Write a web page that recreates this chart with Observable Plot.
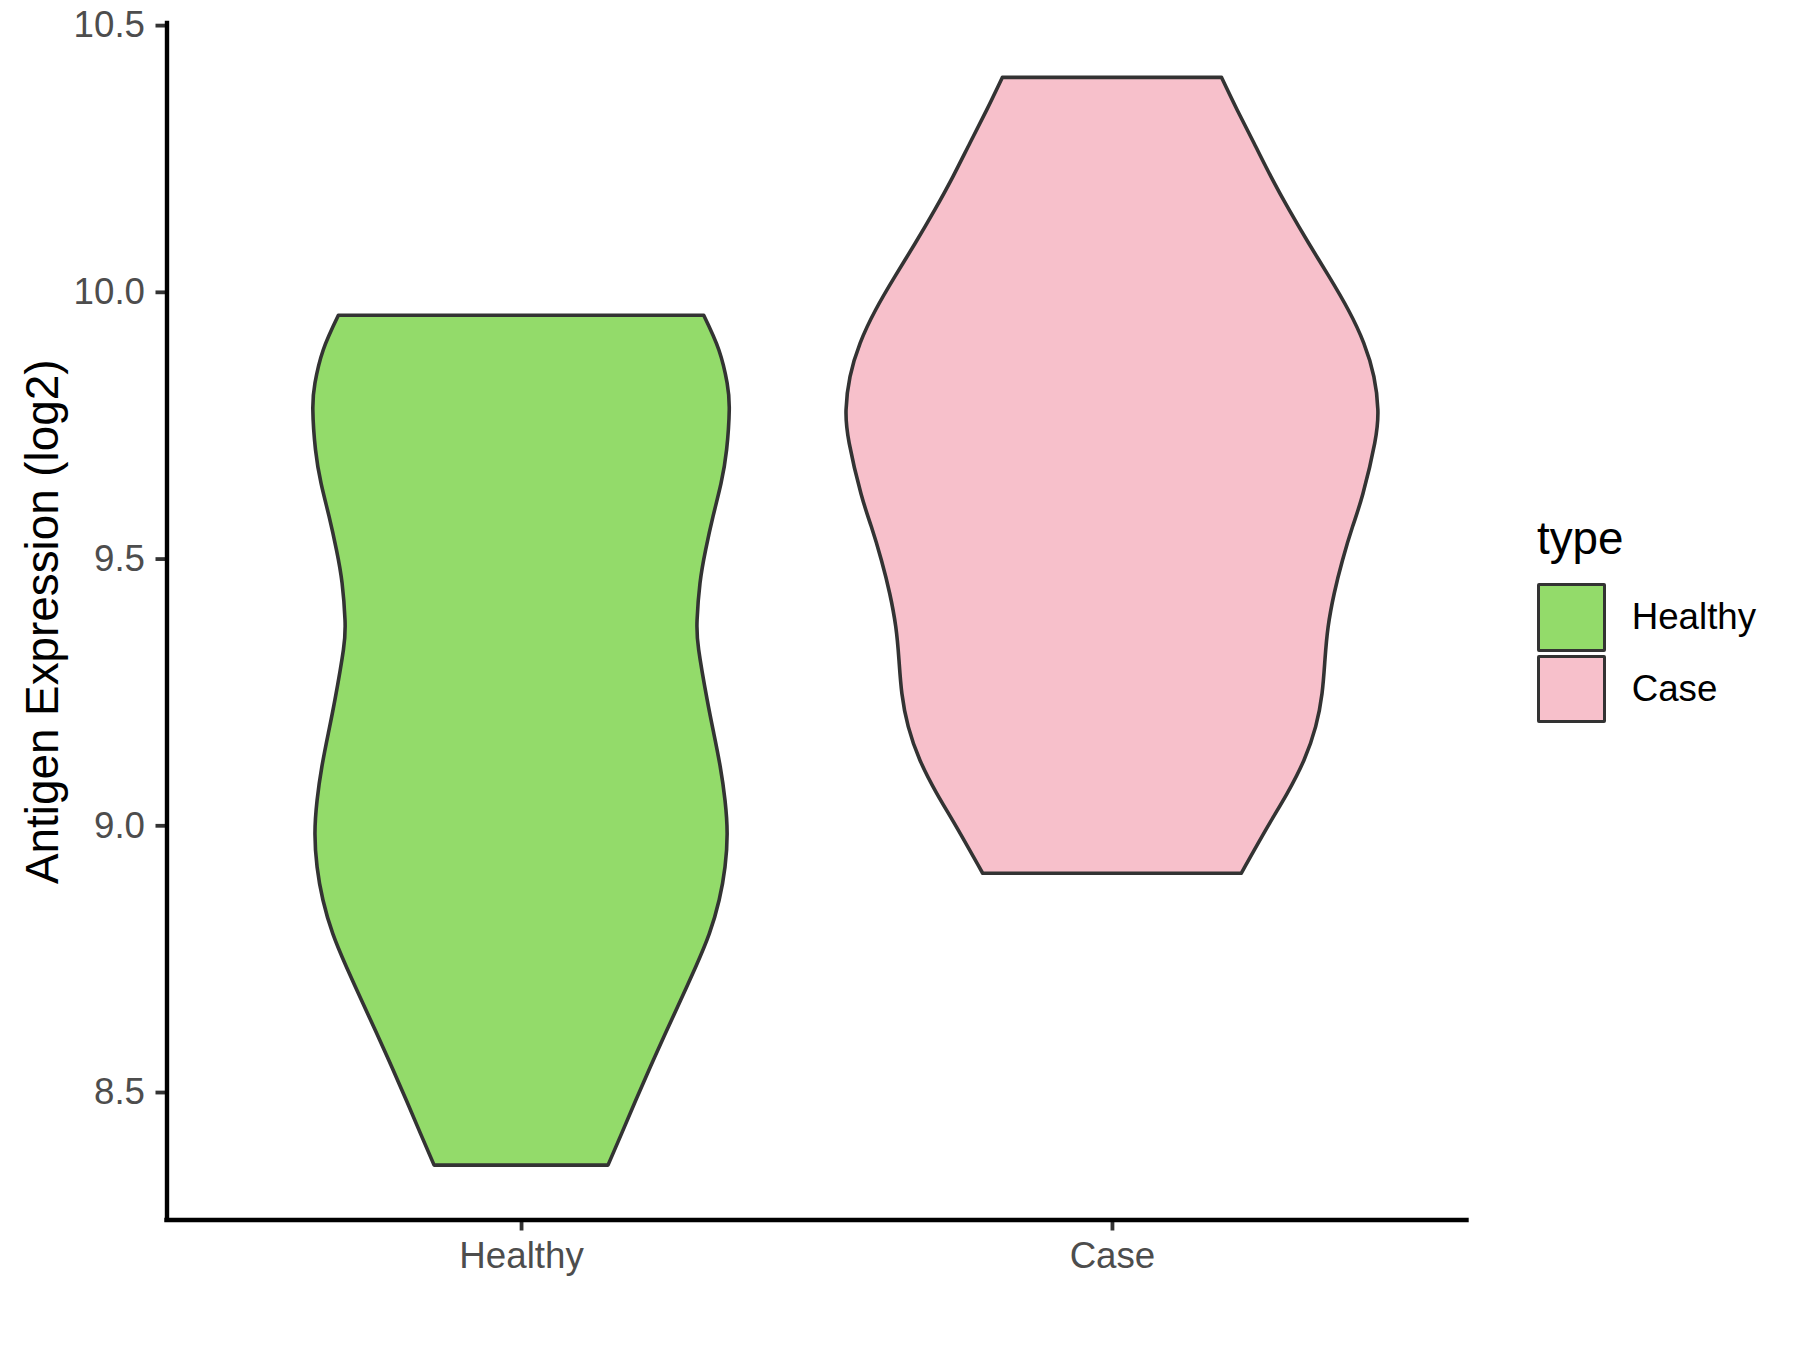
<!DOCTYPE html>
<html>
<head>
<meta charset="utf-8">
<script src="https://cdn.jsdelivr.net/npm/d3@7"></script>
<script src="https://cdn.jsdelivr.net/npm/@observablehq/plot@0.6"></script>
<style>
  html, body { margin: 0; padding: 0; background: #fff; }
  #wrap { position: relative; width: 1800px; height: 1350px; font-family: "Liberation Sans", Arial, sans-serif; }
  #wrap svg { display: block; }
  .leg { position: absolute; font-family: "Liberation Sans", Arial, sans-serif; line-height: 1; white-space: nowrap; color: #000; }
  .key { position: absolute; box-sizing: border-box; border: 3.5px solid #333333; border-radius: 2px; }
</style>
</head>
<body>
<div id="wrap"></div>
<script>
// ---- data ----
const categories = ["Healthy", "Case"];
const colors = ["#93DB6A", "#F7C0CB"];
const yTicks = [8.5, 9.0, 9.5, 10.0, 10.5];
const yTitle = "Antigen Expression (log2)";
const legendTitle = "type";

// Healthy violin: expression values and scaled density (max of all violins = 1)
const healthyY = [9.956, 9.891, 9.829, 9.779, 9.704, 9.641, 9.579, 9.516, 9.454, 9.385, 9.329, 9.235,
  9.172, 9.110, 9.047, 8.985, 8.922, 8.860, 8.797, 8.735, 8.672, 8.610, 8.547, 8.484, 8.422, 8.363];
const healthyDensity = [0.687, 0.744, 0.775, 0.783, 0.773, 0.752, 0.722, 0.694, 0.673, 0.662, 0.668, 0.700,
  0.725, 0.749, 0.767, 0.775, 0.767, 0.745, 0.708, 0.657, 0.600, 0.543, 0.486, 0.431, 0.378, 0.327];

// Case violin
const caseY = [10.402, 10.341, 10.279, 10.216, 10.154, 10.091, 10.029, 9.966, 9.904, 9.841, 9.779, 9.716,
  9.622, 9.560, 9.497, 9.435, 9.372, 9.310, 9.247, 9.185, 9.122, 9.060, 8.997, 8.910];
const caseDensity = [0.412, 0.471, 0.534, 0.598, 0.666, 0.740, 0.816, 0.889, 0.947, 0.985, 1.000, 0.988,
  0.944, 0.905, 0.867, 0.836, 0.813, 0.801, 0.790, 0.766, 0.722, 0.659, 0.585, 0.486];

// ---- build rows ----
const halfWidth = 0.45; // ggplot violin width 0.9
function rows(ys, ds, idx, type) {
  return ys.map((y, i) => ({type, pos: idx + 1, y, d: ds[i]}));
}
const healthyRows = rows(healthyY, healthyDensity, 0, categories[0]);
const caseRows = rows(caseY, caseDensity, 1, categories[1]);

const allY = healthyY.concat(caseY);
const yMin = d3.min(allY), yMax = d3.max(allY);
const yPad = (yMax - yMin) * 0.05;

const violin = (data, fill) => Plot.areaX(data, {
  y: "y",
  x1: d => d.pos - halfWidth * d.d,
  x2: d => d.pos + halfWidth * d.d,
  fill,
  stroke: "#333333",
  strokeWidth: 3.6,
  strokeLinejoin: "round",
  curve: "natural"
});

const chart = Plot.plot({
  width: 1800,
  height: 1350,
  marginLeft: 166.5,
  marginRight: 333.5,
  marginTop: 23,
  marginBottom: 130.5,
  style: {fontFamily: "'Liberation Sans', Arial, sans-serif", fontSize: "36.7px", background: "#fff"},
  x: {domain: [0.4, 2.6], label: null},
  y: {domain: [yMin - yPad, yMax + yPad], label: null},
  marks: [
    violin(healthyRows, colors[0]),
    violin(caseRows, colors[1]),
    Plot.axisY({ticks: yTicks, tickFormat: d3.format(".1f"), tickSize: 11, tickPadding: 11,
      stroke: "#333333", strokeWidth: 3.8, fill: "#4D4D4D", fontSize: 36.7, label: null}),
    Plot.axisX({ticks: [1, 2], tickFormat: d => categories[d - 1], tickSize: 11, tickPadding: 11,
      stroke: "#333333", strokeWidth: 3.8, fill: "#4D4D4D", fontSize: 36.7, label: null}),
    Plot.ruleX([0.4], {stroke: "#000", strokeWidth: 4.4, strokeLinecap: "square"}),
    Plot.ruleY([yMin - yPad], {stroke: "#000", strokeWidth: 4.4, strokeLinecap: "square"}),
    Plot.text([yTitle], {frameAnchor: "left", rotate: -90, dx: -124, fontSize: 45.8, fill: "#000",
      textAnchor: "middle", lineAnchor: "middle"})
  ]
});

const wrap = document.getElementById("wrap");
wrap.appendChild(chart);

// ---- legend (HTML, right of the plot) ----
function addDiv(cls, css, text) {
  const el = document.createElement("div");
  el.className = cls;
  Object.assign(el.style, css);
  if (text != null) el.textContent = text;
  wrap.appendChild(el);
  return el;
}
addDiv("leg", {left: "1537px", top: "516px", fontSize: "45.8px"}, legendTitle);
categories.forEach((c, i) => {
  const top = 583.3 + i * 71.7;
  addDiv("key", {left: "1536.7px", top: top + "px", width: "69.3px", height: "68.4px", background: colors[i]});
  addDiv("leg", {left: "1631.7px", top: (top + 15.7) + "px", fontSize: "36.7px"}, c);
});
</script>
</body>
</html>
